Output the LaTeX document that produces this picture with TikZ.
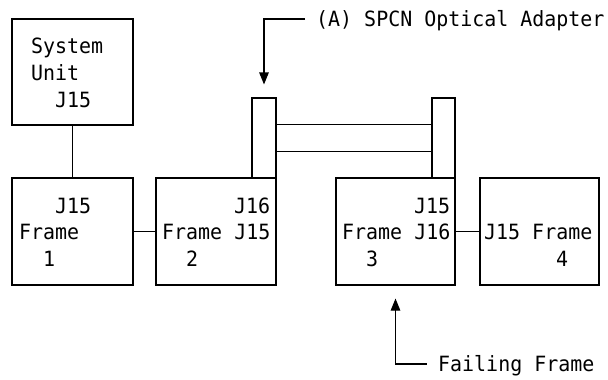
\documentclass[tikz,border=0pt]{standalone}
\usepackage{fontspec}
\setmainfont{DejaVu Sans Mono}
\newfontfamily\diagfont[FakeStretch=0.95]{DejaVu Sans Mono}
\usetikzlibrary{arrows.meta}
\begin{document}
\begin{tikzpicture}[x=1pt,y=-1pt,
  box/.style={draw,line width=1.1pt,inner sep=0pt,minimum width=#1},
  lbl/.style={inner sep=0pt,anchor=base west,font=\diagfont\fontsize{21}{25}\selectfont},
  conn/.style={line width=1.1pt},
  arr/.style={line width=1.1pt,-{Triangle[length=12pt,width=9.5pt]}}]
\useasboundingbox (0,0) rectangle (608,380);
% boxes
\node[box=121pt,minimum height=106pt] (su) at (72.5,72) {};
\node[box=121pt,minimum height=107pt] (f1) at (72.5,231.5) {};
\node[box=120pt,minimum height=107pt] (f2) at (216,231.5) {};
\node[box=24pt,minimum height=80pt] (adL) at (264,138) {};
\node[box=23pt,minimum height=80pt] (adR) at (443.5,138) {};
\node[box=119pt,minimum height=107pt] (f3) at (395.5,231.5) {};
\node[box=119pt,minimum height=107pt] (f4) at (539.5,231.5) {};
% texts
\node[lbl] (t1) at (31,53) {System};
\node[lbl] (t2) at (31,80) {Unit};
\node[lbl] (t3) at (55,107) {J15};
\node[lbl] (t4) at (55,213) {J15};
\node[lbl] (t5) at (19,239) {Frame};
\node[lbl] (t6) at (43,266) {1};
\node[lbl] (t7) at (234,213) {J16};
\node[lbl] (t8) at (162,239) {Frame J15};
\node[lbl] (t9) at (186,266) {2};
\node[lbl] (t10) at (414,213) {J15};
\node[lbl] (t11) at (342,239) {Frame J16};
\node[lbl] (t12) at (366,266) {3};
\node[lbl] (t13) at (484,239) {J15 Frame};
\node[lbl] (t14) at (556,266) {4};
\node[lbl] (lblA) at (316,26.5) {(A) SPCN Optical Adapter};
\node[lbl] (lblF) at (438,371.5) {Failing Frame};
% connectors
\draw[conn] (su.south) -- (f1.north);
\draw[conn] (f1.east) -- (f2.west);
\draw[conn] (f3.east) -- (f4.west);
\draw[conn] ([yshift=-27pt]adL.north east) -- ([yshift=-27pt]adR.north west);
\draw[conn] ([yshift=-54pt]adL.north east) -- ([yshift=-54pt]adR.north west);
% arrows
\coordinate (aa) at (305,19);
\coordinate (fa) at (426.7,364);
\draw[arr] (aa) -| ([yshift=13pt]adL.north);
\draw[arr] (fa) -| ([yshift=-13pt]f3.south);
\end{tikzpicture}
\end{document}
